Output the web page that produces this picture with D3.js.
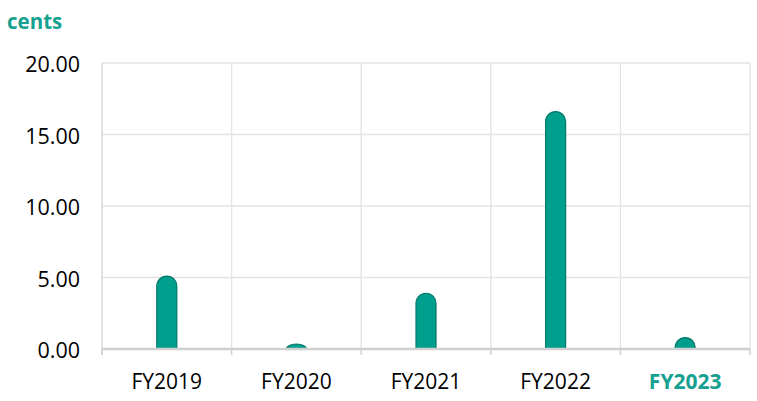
<!DOCTYPE html>
<html><head><meta charset="utf-8">
<script src="https://cdn.jsdelivr.net/npm/d3@7/dist/d3.min.js"></script>
<style>body{margin:0;background:#fff}svg{display:block}</style>
</head><body><svg id="c" width="757" height="401"></svg>
<script>
const categories = ["FY2019","FY2020","FY2021","FY2022","FY2023"];
const values = [5.1, 0.35, 3.9, 16.6, 0.8];
const yTicks = [0, 5, 10, 15, 20];
const yTickLabels = ["0.00","5.00","10.00","15.00","20.00"];
const unitLabel = "cents";

const teal = "#15a08f";
const svg = d3.select("#c");
const m = {l:102, r:750, t:63, b:349};
const x = d3.scaleBand().domain(categories).range([m.l, m.r]).padding(0);
const y = d3.scaleLinear().domain([0,20]).range([m.b, m.t]);

svg.append("g").selectAll("line").data(yTicks.filter(d=>d>0)).join("line")
  .attr("x1", m.l).attr("x2", m.r).attr("y1", d=>y(d)).attr("y2", d=>y(d))
  .attr("stroke", "#e3e3e3").attr("stroke-width", 1.3);
const bounds = categories.map(c=>x(c)+x.bandwidth());
svg.append("g").selectAll("line").data(bounds).join("line")
  .attr("x1", d=>d).attr("x2", d=>d).attr("y1", m.t).attr("y2", m.b)
  .attr("stroke", "#e3e3e3").attr("stroke-width", 1.3);
svg.append("line").attr("x1", m.l).attr("x2", m.l).attr("y1", m.t).attr("y2", m.b+6)
  .attr("stroke", "#d9d9d9").attr("stroke-width", 1.5);

const bw = 20;
svg.append("g").selectAll("path").data(values).join("path")
  .attr("d", (v,i)=>{
    const cx = x(categories[i]) + x.bandwidth()/2;
    const x0 = cx - bw/2, x1 = cx + bw/2;
    const top = y(v), bot = y(0);
    const h = bot - top;
    const ry = Math.min(bw/2, h);
    return `M${x0},${bot} L${x0},${top+ry} A${bw/2},${ry} 0 0 1 ${x1},${top+ry} L${x1},${bot} Z`;
  })
  .attr("fill", "#009e8c").attr("stroke", "#00786a").attr("stroke-width", 1.2);

const xAxis = svg.append("g").attr("transform", `translate(0,${m.b})`);
xAxis.append("line").attr("x1", m.l).attr("x2", m.r).attr("stroke", "#d0d0d0").attr("stroke-width", 2.5);
xAxis.selectAll("line.tk").data([m.l, ...bounds]).join("line").attr("class","tk")
  .attr("x1", d=>d).attr("x2", d=>d).attr("y1", 0).attr("y2", 6)
  .attr("stroke", "#d0d0d0").attr("stroke-width", 1.5);
xAxis.selectAll("text").data(categories).join("text")
  .attr("x", d=>x(d)+x.bandwidth()/2).attr("y", 40)
  .attr("text-anchor","middle")
  .attr("font-family","'Open Sans', sans-serif").attr("font-size", 21)
  .attr("font-weight", (d,i)=> i===categories.length-1 ? 700 : 400)
  .attr("fill", (d,i)=> i===categories.length-1 ? teal : "#000")
  .text(d=>d);

svg.append("g").selectAll("text").data(yTicks).join("text")
  .attr("x", 80).attr("y", d=>y(d)+9)
  .attr("text-anchor","end")
  .attr("font-family","'Open Sans', sans-serif").attr("font-size", 21.5)
  .attr("fill","#000")
  .text((d,i)=>yTickLabels[i]);

svg.append("text").attr("x", 7).attr("y", 29)
  .attr("font-family","'Open Sans', sans-serif").attr("font-size", 20.5).attr("font-weight", 700)
  .attr("fill", teal).text(unitLabel);
</script></body></html>
